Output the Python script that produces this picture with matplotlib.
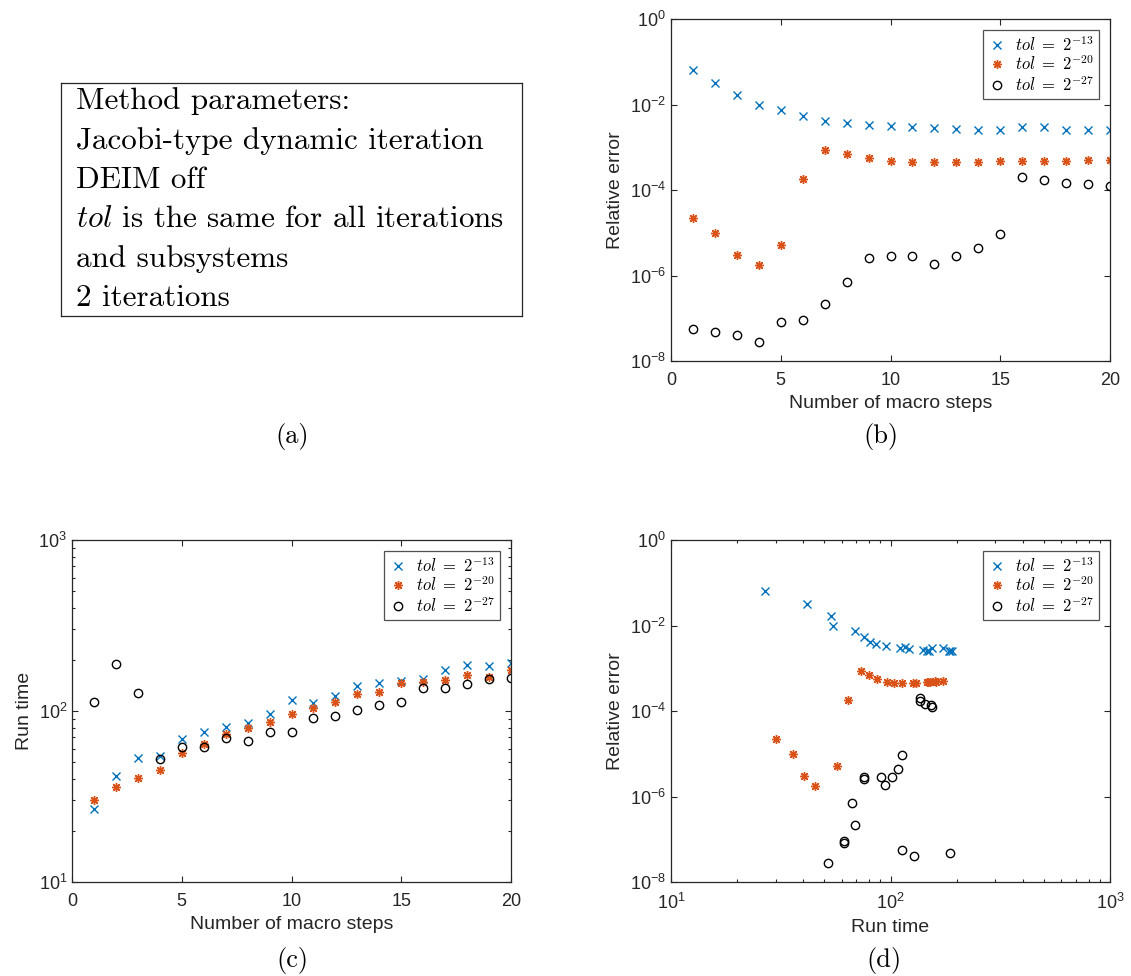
"""Dynamic iteration results: relative error and run time vs macro steps."""

import matplotlib
matplotlib.use("Agg")
import matplotlib.pyplot as plt
from matplotlib.ticker import LogLocator, FixedLocator, NullLocator, NullFormatter

plt.rcParams['font.family'] = ['Liberation Sans', 'DejaVu Sans']
plt.rcParams['mathtext.fontset'] = 'cm'

# data
steps = list(range(1, 21))
err_13 = [0.063, 0.032, 0.017, 0.010, 0.0076, 0.0055, 0.0042, 0.0037, 0.0034, 0.0031,
          0.0030, 0.0028, 0.0027, 0.0026, 0.0025, 0.0030, 0.0029, 0.0026, 0.0026, 0.0025]
err_20 = [2.2e-5, 9.7e-6, 3.0e-6, 1.8e-6, 5.2e-6, 1.8e-4, 8.5e-4, 7.1e-4, 5.6e-4, 4.7e-4,
          4.5e-4, 4.4e-4, 4.4e-4, 4.5e-4, 4.7e-4, 4.7e-4, 4.7e-4, 4.7e-4, 5.0e-4, 5.0e-4]
err_27 = [5.7e-8, 4.8e-8, 4.0e-8, 2.8e-8, 8.1e-8, 9.3e-8, 2.2e-7, 7.2e-7, 2.5e-6, 2.9e-6,
          2.8e-6, 1.85e-6, 2.8e-6, 4.5e-6, 9.2e-6, 2.0e-4, 1.7e-4, 1.45e-4, 1.35e-4, 1.24e-4]
time_13 = [26.7, 41.7, 53.3, 54.5, 68.6, 75.6, 80.3, 85.5, 95.6, 116,
           111, 122, 140, 146, 150, 154, 174, 186, 184, 190]
time_20 = [30.1, 36.0, 40.5, 45.2, 56.8, 63.8, 73.1, 79.8, 86.6, 96.4,
           104, 113, 126, 130, 146.5, 148, 151, 162, 159, 174]
time_27 = [113, 187.5, 128, 52.1, 61.4, 61.6, 69.2, 67.0, 75.7, 75.7,
           90.6, 93.9, 102, 108, 113, 136, 136, 143, 153, 155]
tol_labels = [r'$tol\ =\ 2^{-13}$', r'$tol\ =\ 2^{-20}$', r'$tol\ =\ 2^{-27}$']

params_lines = ['Method parameters:',
                'Jacobi-type dynamic iteration',
                'DEIM off',
                r'$tol$ is the same for all iterations',
                'and subsystems',
                '2 iterations']

blue = '#0072BD'
orange = '#D95319'
axcol = '#262626'
W, H = 1131, 976

fig = plt.figure(figsize=(W / 100, H / 100), dpi=100)


def px_axes(left, top, right, bottom):
    return fig.add_axes([left / W, 1 - bottom / H, (right - left) / W, (bottom - top) / H])


def style(ax):
    for sp in ax.spines.values():
        sp.set_color(axcol)
        sp.set_linewidth(0.9)
    ax.tick_params(which='both', direction='in', top=True, right=True,
                   colors=axcol, labelsize=13, width=0.8)
    ax.tick_params(which='major', length=4.5)
    ax.tick_params(which='minor', length=2.5)
    ax.tick_params(axis='x', pad=8)


def scatter3(ax, xs, ys):
    ax.plot(xs[0], ys[0], 'x', color=blue, ms=5.5, mew=1.0, ls='none', label=tol_labels[0])
    ax.plot(xs[1], ys[1], marker=(8, 2, 0), color=orange, ms=6.5, mew=1.0, ls='none',
            label=tol_labels[1])
    ax.plot(xs[2], ys[2], 'o', mfc='none', mec='black', ms=6, mew=1.0, ls='none',
            label=tol_labels[2])
    leg = ax.legend(loc='upper right', fontsize=12, frameon=True, fancybox=False,
                    handletextpad=0.6, labelspacing=0.05, borderpad=0.3,
                    handlelength=1.0, borderaxespad=0.65)
    leg.get_frame().set_edgecolor(axcol)
    leg.get_frame().set_linewidth(0.9)


def err_axis(ax):
    ax.set_yscale('log')
    ax.set_ylim(1e-8, 1)
    ax.yaxis.set_major_locator(FixedLocator([1e-8, 1e-6, 1e-4, 1e-2, 1]))
    ax.yaxis.set_minor_locator(NullLocator())
    ax.set_ylabel('Relative error', fontsize=14, color=axcol)


# (a) parameter box
ax_a = px_axes(61, 83, 522, 316)
ax_a.set_xticks([])
ax_a.set_yticks([])
for sp in ax_a.spines.values():
    sp.set_color(axcol)
    sp.set_linewidth(0.9)
ax_a.text(0.033, 0.50, '\n'.join(params_lines), transform=ax_a.transAxes,
          ha='left', va='center', fontsize=22.4, family='cmr10', linespacing=1.55)

# (b) error vs macro steps
ax_b = px_axes(671, 19, 1110, 361)
style(ax_b)
scatter3(ax_b, [steps, steps, steps], [err_13, err_20, err_27])
err_axis(ax_b)
ax_b.set_xlim(0, 20)
ax_b.set_xticks([0, 5, 10, 15, 20])
ax_b.set_xlabel('Number of macro steps', fontsize=14, color=axcol)

# (c) run time vs macro steps
ax_c = px_axes(72, 540, 511, 882)
style(ax_c)
scatter3(ax_c, [steps, steps, steps], [time_13, time_20, time_27])
ax_c.set_yscale('log')
ax_c.set_ylim(10, 1000)
ax_c.yaxis.set_minor_locator(LogLocator(base=10, subs=range(2, 10)))
ax_c.yaxis.set_minor_formatter(NullFormatter())
ax_c.set_xlim(0, 20)
ax_c.set_xticks([0, 5, 10, 15, 20])
ax_c.set_xlabel('Number of macro steps', fontsize=14, color=axcol)
ax_c.set_ylabel('Run time', fontsize=14, color=axcol)

# (d) error vs run time
ax_d = px_axes(671, 540, 1110, 882)
style(ax_d)
scatter3(ax_d, [time_13, time_20, time_27], [err_13, err_20, err_27])
err_axis(ax_d)
ax_d.set_xscale('log')
ax_d.set_xlim(10, 1000)
ax_d.xaxis.set_minor_locator(LogLocator(base=10, subs=range(2, 10)))
ax_d.xaxis.set_minor_formatter(NullFormatter())
ax_d.set_xlabel('Run time', fontsize=14, color=axcol)

# sub-figure captions
for lab, cx, cy in [('(a)', 292, 437), ('(b)', 881, 437), ('(c)', 292, 960), ('(d)', 884, 960)]:
    fig.text(cx / W, 1 - cy / H, lab, ha='center', va='center', fontsize=19, family='cmr10')

fig.savefig('out.png', dpi=100)
